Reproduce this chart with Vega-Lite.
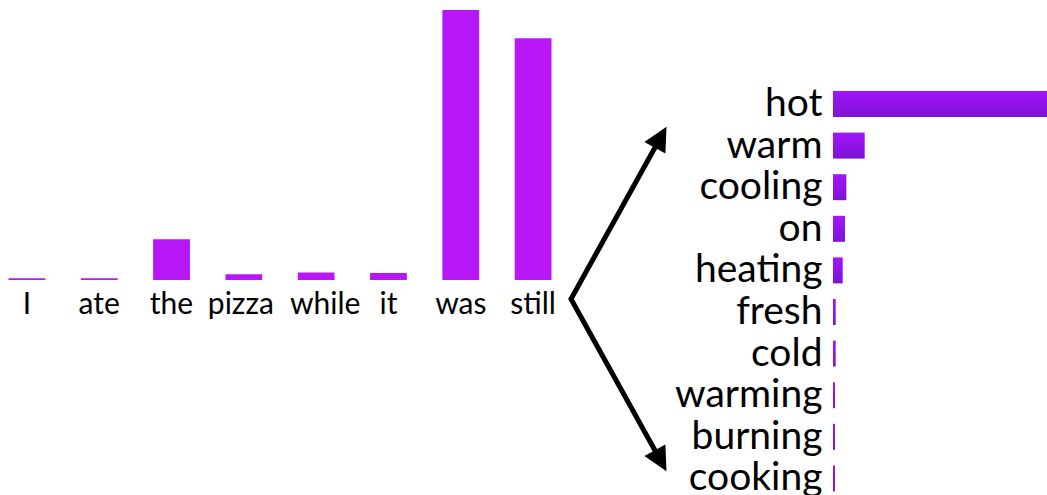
{
  "$schema": "https://vega.github.io/schema/vega-lite/v6.json",
  "padding": 0,
  "background": "white",
  "bounds": "flush",
  "spacing": 0,
  "config": {
    "view": {"stroke": null},
    "axis": {"labelFont": "Lato", "labelColor": "#000000"}
  },
  "datasets": {
    "context": [
      {"word": "I", "weight": 0.003},
      {"word": "ate", "weight": 0.003},
      {"word": "the", "weight": 0.071},
      {"word": "pizza", "weight": 0.010},
      {"word": "while", "weight": 0.013},
      {"word": "it", "weight": 0.012},
      {"word": "was", "weight": 0.47},
      {"word": "still", "weight": 0.421}
    ],
    "next": [
      {"word": "hot", "prob": 0.8},
      {"word": "warm", "prob": 0.1185},
      {"word": "cooling", "prob": 0.050},
      {"word": "on", "prob": 0.0449},
      {"word": "heating", "prob": 0.0363},
      {"word": "fresh", "prob": 0.0101},
      {"word": "cold", "prob": 0.0101},
      {"word": "warming", "prob": 0.0075},
      {"word": "burning", "prob": 0.0075},
      {"word": "cooking", "prob": 0.0075}
    ],
    "arrow": [
      {"part": "up", "seq": 1, "x": 0.897, "y": 1.618},
      {"part": "vertex", "seq": 2, "x": 0, "y": 0},
      {"part": "down", "seq": 3, "x": 0.897, "y": -1.618}
    ]
  },
  "hconcat": [
    {
      "width": 560,
      "height": 280,
      "data": {"name": "context"},
      "mark": {"type": "bar", "color": "#b817f8"},
      "encoding": {
        "x": {
          "field": "word", "type": "nominal", "sort": null,
          "scale": {"paddingInner": 0.491, "paddingOuter": 0.1176},
          "axis": {
            "title": null, "domain": false, "ticks": false, "labelAngle": 0,
            "labelFontSize": 30, "labelPadding": 9,
            "labelOffset": {"expr": "datum.value == 'while' ? 9 : datum.value == 'pizza' ? -3 : 0"}
          }
        },
        "y": {
          "field": "weight", "type": "quantitative",
          "scale": {"domain": [0, 0.4874]},
          "axis": null
        }
      }
    },
    {
      "width": 273,
      "height": 492,
      "data": {"name": "arrow"},
      "encoding": {
        "x": {"field": "x", "type": "quantitative", "scale": {"domain": [-0.11, 2.62]}, "axis": null},
        "y": {"field": "y", "type": "quantitative", "scale": {"domain": [-1.93, 2.99]}, "axis": null}
      },
      "layer": [
        {
          "mark": {"type": "line", "color": "#000000", "strokeWidth": 5, "strokeJoin": "miter", "strokeCap": "butt"},
          "encoding": {"order": {"field": "seq", "type": "quantitative"}}
        },
        {
          "transform": [{"filter": "datum.part == 'up'"}],
          "mark": {"type": "point", "shape": "M0,-1L1,1L-1,1Z", "filled": true, "color": "#000000", "opacity": 1, "size": 576, "angle": 29}
        },
        {
          "transform": [{"filter": "datum.part == 'down'"}],
          "mark": {"type": "point", "shape": "M0,-1L1,1L-1,1Z", "filled": true, "color": "#000000", "opacity": 1, "size": 576, "angle": 151}
        }
      ]
    },
    {
      "width": 214,
      "height": 492,
      "data": {"name": "next"},
      "mark": {
        "type": "bar",
        "color": {
          "gradient": "linear", "x1": 0, "y1": 0, "x2": 0, "y2": 1,
          "stops": [{"offset": 0, "color": "#a414fb"}, {"offset": 1, "color": "#7b14d4"}]
        }
      },
      "encoding": {
        "y": {
          "field": "word", "type": "nominal", "sort": null,
          "scale": {"paddingInner": 0.375, "paddingOuter": 0.1875, "range": [83.2, 499.2]},
          "axis": {"title": null, "domain": false, "ticks": false, "labelFontSize": 39, "labelPadding": 11, "labelLimit": 0}
        },
        "x": {
          "field": "prob", "type": "quantitative",
          "scale": {"domain": [0, 0.8]},
          "axis": null
        }
      }
    }
  ]
}
